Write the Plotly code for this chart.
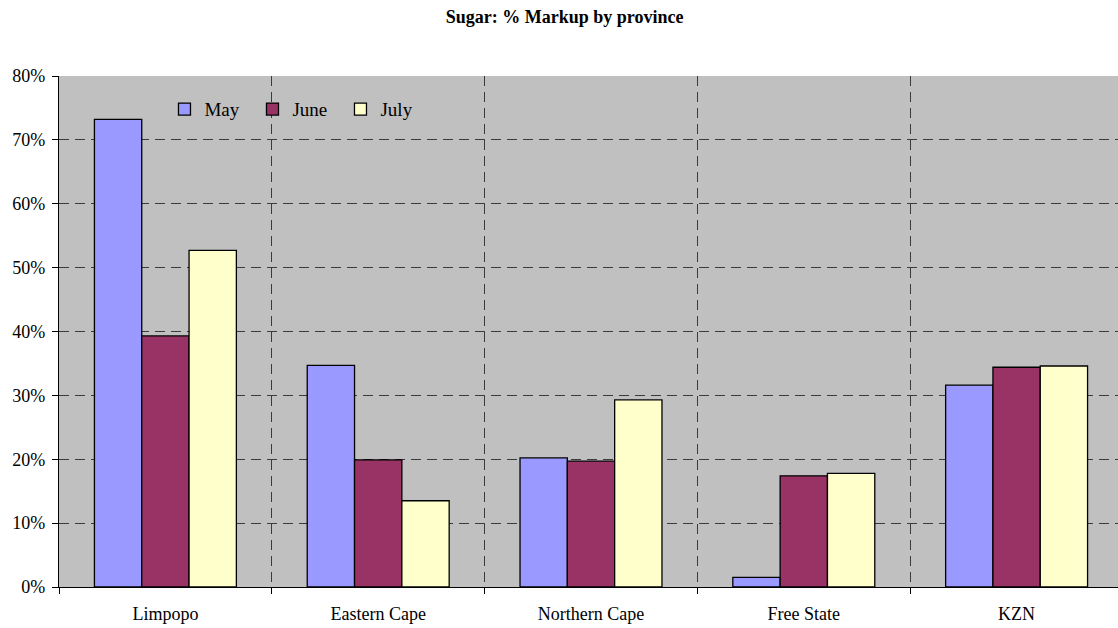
import plotly.graph_objects as go

provinces = ["Limpopo", "Eastern Cape", "Northern Cape", "Free State", "KZN"]
may = [0.732, 0.347, 0.202, 0.015, 0.316]
june = [0.393, 0.199, 0.197, 0.174, 0.344]
july = [0.527, 0.135, 0.293, 0.178, 0.346]
series_names = ["May", "June", "July"]
colors = ["#9999FF", "#993366", "#FFFFCC"]

font = "Liberation Serif, Times New Roman, serif"
fig = go.Figure()
for name, vals, col in zip(series_names, [may, june, july], colors):
    fig.add_trace(go.Bar(x=provinces, y=vals, name=name,
                         marker=dict(color=col, line=dict(color="black", width=1.3))))

fig.update_layout(
    width=1118, height=628,
    margin=dict(l=59, r=0, t=76, b=41),
    paper_bgcolor="white", plot_bgcolor="#C0C0C0",
    barmode="group", bargap=0.333, bargroupgap=0,
    title=dict(text="<b>Sugar: % Markup by province</b>", x=0.505, xanchor="center", y=0.974, yanchor="middle",
               font=dict(family=font, size=18, color="black")),
    font=dict(family=font, size=18, color="black"),
    legend=dict(orientation="h", x=0.0996, y=0.935, xanchor="left", yanchor="middle",
                bgcolor="rgba(0,0,0,0)", font=dict(family=font, size=19),
                entrywidth=43, entrywidthmode="pixels"),
    showlegend=True,
)
fig.update_xaxes(type="category", range=[-0.5, 4.4765], tickson="boundaries", ticks="outside", ticklen=6,
                 tickcolor="black", showline=True, linecolor="black", linewidth=1.3,
                 showgrid=True, gridcolor="#3a3a3a", griddash="10px,6px", gridwidth=1,
                 ticklabelstandoff=10, tickfont=dict(family=font, size=18))
fig.update_yaxes(range=[0, 0.8], dtick=0.1, tickformat=".0%", ticks="outside", ticklen=6, tickcolor="black",
                 showline=True, linecolor="black", linewidth=1.3, zeroline=False,
                 showgrid=True, gridcolor="#3a3a3a", griddash="10px,6px", gridwidth=1,
                 ticklabelstandoff=3, tickfont=dict(family=font, size=18))
fig.write_html("out.html")
